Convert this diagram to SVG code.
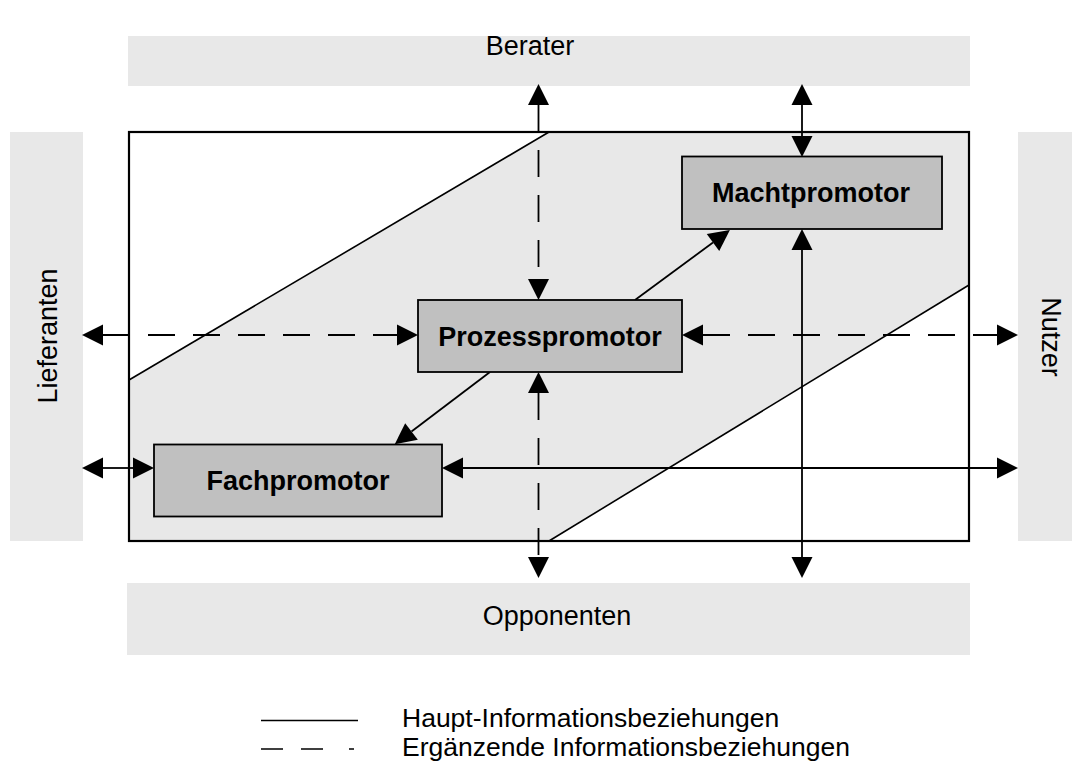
<svg xmlns="http://www.w3.org/2000/svg" width="1081" height="763" viewBox="0 0 1081 763">
  <style>
    .ext { fill: #e8e8e8; stroke: none; }
    .ext-label { font-family: "Liberation Sans", Arial, sans-serif; font-size: 27px; fill: #000; text-anchor: middle; }
    .node rect { fill: #c0c0c0; stroke: #000; stroke-width: 1.8; }
    .node text { font-family: "Liberation Sans", Arial, sans-serif; font-size: 27px; font-weight: bold; fill: #000; text-anchor: middle; }
    .main { stroke: #000; stroke-width: 1.8; fill: none; }
    .aux { stroke: #000; stroke-width: 1.8; fill: none; stroke-dasharray: 27 18; }
    .legend { font-family: "Liberation Sans", Arial, sans-serif; font-size: 26.5px; fill: #000; }
  </style>
  <defs>
    <marker id="head" markerUnits="userSpaceOnUse" markerWidth="21" markerHeight="21" refX="0" refY="10.5" orient="auto-start-reverse" overflow="visible">
      <path d="M0,0 L21,10.5 L0,21 z" fill="#000"/>
    </marker>
  </defs>

  <rect width="1081" height="763" fill="#fff"/>

  <!-- surrounding parties -->
  <g id="berater">
    <rect class="ext" x="128" y="36" width="842" height="50"/>
    <text class="ext-label" x="530" y="55">Berater</text>
  </g>
  <g id="opponenten">
    <rect class="ext" x="127" y="583" width="843" height="72"/>
    <text class="ext-label" x="557" y="625">Opponenten</text>
  </g>
  <g id="lieferanten">
    <rect class="ext" x="10" y="132" width="73" height="409"/>
    <text class="ext-label" transform="translate(56.5,336) rotate(-90)">Lieferanten</text>
  </g>
  <g id="nutzer">
    <rect class="ext" x="1018" y="132" width="54" height="409"/>
    <text class="ext-label" transform="translate(1042,337) rotate(90)">Nutzer</text>
  </g>

  <!-- organisation frame with the shaded promoter band -->
  <g id="organisation">
    <polygon points="549,132 969,132 969,285 549,541 129,541 129,380" fill="#e8e8e8" stroke="none"/>
    <line x1="129" y1="380" x2="549" y2="132" stroke="#000" stroke-width="1.6"/>
    <line x1="549" y1="541" x2="969" y2="285" stroke="#000" stroke-width="1.6"/>
    <rect x="129" y="132" width="840" height="409" fill="none" stroke="#000" stroke-width="2.2"/>
  </g>

  <!-- information flows -->
  <g id="connectors">
    <!-- supplementary (dashed) -->
    <line class="aux" x1="538.5" y1="105" x2="538.5" y2="279" marker-start="url(#head)" marker-end="url(#head)"/>
    <line class="aux" x1="538.5" y1="393" x2="538.5" y2="557" marker-start="url(#head)" marker-end="url(#head)"/>
    <line class="aux" x1="103" y1="335" x2="397" y2="335" marker-start="url(#head)" marker-end="url(#head)"/>
    <line class="aux" x1="703" y1="335" x2="997" y2="335" marker-start="url(#head)" marker-end="url(#head)"/>
    <!-- main (solid) -->
    <line class="main" x1="802" y1="105" x2="802" y2="136" marker-start="url(#head)" marker-end="url(#head)"/>
    <line class="main" x1="802" y1="250" x2="802" y2="557" marker-start="url(#head)" marker-end="url(#head)"/>
    <line class="main" x1="103" y1="468" x2="133" y2="468" marker-start="url(#head)" marker-end="url(#head)"/>
    <line class="main" x1="463" y1="468" x2="997" y2="468" marker-start="url(#head)" marker-end="url(#head)"/>
    <line class="main" x1="635" y1="300" x2="713" y2="242.5" marker-end="url(#head)"/>
    <line class="main" x1="490" y1="372" x2="411.5" y2="431.5" marker-end="url(#head)"/>
  </g>

  <!-- promoters -->
  <g id="machtpromotor" class="node">
    <rect x="682" y="156.5" width="260" height="72.5"/>
    <text x="811" y="202">Machtpromotor</text>
  </g>
  <g id="prozesspromotor" class="node">
    <rect x="418" y="300" width="264" height="72"/>
    <text x="550" y="346">Prozesspromotor</text>
  </g>
  <g id="fachpromotor" class="node">
    <rect x="154" y="444.5" width="288" height="72"/>
    <text x="298" y="490">Fachpromotor</text>
  </g>

  <!-- key -->
  <g id="legend">
    <line x1="261" y1="720.5" x2="358" y2="720.5" stroke="#000" stroke-width="1.6"/>
    <line x1="261" y1="749" x2="354" y2="749" stroke="#000" stroke-width="1.6" stroke-dasharray="22 18 22 26 5 100"/>
    <text class="legend" x="402" y="727">Haupt-Informationsbeziehungen</text>
    <text class="legend" x="402" y="756">Ergänzende Informationsbeziehungen</text>
  </g>
</svg>
